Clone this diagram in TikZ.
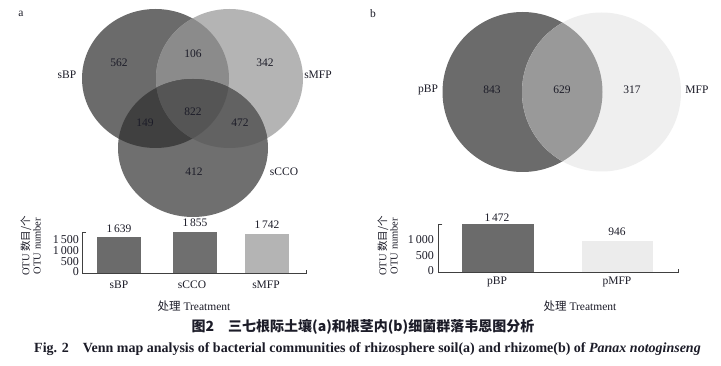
\documentclass[tikz,border=0pt]{standalone}
\usepackage{fontspec}
\setmainfont{Liberation Serif}
\newfontfamily\cjk{Noto Sans CJK SC}
\definecolor{txt}{HTML}{1C1C28}
\definecolor{vA}{HTML}{6B6B6B}
\definecolor{vB}{HTML}{B4B4B4}
\definecolor{vC}{HTML}{6F6F6F}
\definecolor{vAB}{HTML}{8B8B8B}
\definecolor{vAC}{HTML}{404040}
\definecolor{vBC}{HTML}{626262}
\definecolor{vABC}{HTML}{555555}
\definecolor{pA}{HTML}{6B6B6B}
\definecolor{pB}{HTML}{EFEFEF}
\definecolor{pAB}{HTML}{999999}
\definecolor{barL}{HTML}{B4B4B4}
\definecolor{barP}{HTML}{ECECEC}
\begin{document}
\begin{tikzpicture}[x=1pt,y=-1pt,
  lab/.style={text=txt,font=\fontsize{11.5}{12}\selectfont,inner sep=0pt},
  tick/.style={text=txt,font=\fontsize{12}{11}\selectfont,inner sep=0pt,anchor=east},
  ytitle/.style={text=txt,font=\fontsize{10.5}{11}\selectfont,inner sep=0pt,rotate=90},
  axis/.style={draw=black!75,line width=0.6pt}]
\useasboundingbox (0,0) rectangle (721,366);
\fill[white] (0,0) rectangle (721,366);
% ---------- Venn a ----------
\def\sBPshape{(155.5,78.5) ellipse [x radius=73.5, y radius=69.5]}
\def\sMFPshape{(229.5,78.5) ellipse [x radius=73.5, y radius=69.5]}
\def\sCCOshape{(193,148) ellipse [x radius=75, y radius=69]}
\fill[vA] \sBPshape;
\fill[vB] \sMFPshape;
\fill[vC] \sCCOshape;
\begin{scope}\clip \sBPshape; \fill[vAB] \sMFPshape; \end{scope}
\begin{scope}\clip \sBPshape; \fill[vAC] \sCCOshape; \end{scope}
\begin{scope}\clip \sMFPshape; \fill[vBC] \sCCOshape; \end{scope}
\begin{scope}\clip \sBPshape; \clip \sMFPshape; \fill[vABC] \sCCOshape; \end{scope}
\node[lab] (la) at (21,14) {a};
\node[lab] (nsBP) at (67,75) {sBP};
\node[lab] (nsMFP) at (318,75) {sMFP};
\node[lab] (nsCCO) at (284,172) {sCCO};
\node[lab] (n562) at (119,63) {562};
\node[lab] (n106) at (193,54) {106};
\node[lab] (n342) at (265,63) {342};
\node[lab] (n822) at (193,112) {822};
\node[lab] (n149) at (145,123) {149};
\node[lab] (n472) at (240,123) {472};
\node[lab] (n412) at (194,172) {412};
% ---------- Venn b ----------
\def\pBPshape{(522.5,92) circle [radius=80]}
\def\pMFPshape{(601.5,92) circle [radius=79.5]}
\fill[pA] \pBPshape;
\fill[pB] \pMFPshape;
\begin{scope}\clip \pBPshape; \fill[pAB] \pMFPshape; \end{scope}
\node[lab] (lb) at (373,14) {b};
\node[lab] (npBP) at (428,90) {pBP};
\node[lab] (nMFP) at (697,90) {MFP};
\node[lab] (n843) at (492,90) {843};
\node[lab] (n629) at (562,90) {629};
\node[lab] (n317) at (632,90) {317};
% ---------- Bars a ----------
\fill[vA] (96.7,273.5) rectangle (141,236.8);
\fill[vC] (172.7,273.5) rectangle (217.3,231.9);
\fill[barL] (245,273.5) rectangle (289.3,234.5);
\draw[axis] (86,232) -- (82,232) -- (82,273.5) -- (306,273.5) -- (306,270);
\node[tick] (ta0) at (79,272) {0};
\node[tick] (ta1) at (79,261.5) {500};
\node[tick] (ta2) at (79,250.5) {1\,000};
\node[tick] (ta3) at (79,239.5) {1\,500};
\node[lab] (va1) at (119,229) {1\,639};
\node[lab] (va2) at (195,223) {1\,855};
\node[lab] (va3) at (267,225) {1\,742};
\node[lab] (ca1) at (119,285) {sBP};
\node[lab] (ca2) at (192,285) {sCCO};
\node[lab] (ca3) at (266,285) {sMFP};
\node[lab] (xa) at (194,306) {{\cjk 处理} Treatment};
\node[ytitle] (ya1) at (26,246) {OTU {\cjk 数目/个}};
\node[ytitle] (ya2) at (37,246) {OTU number};
% ---------- Bars b ----------
\fill[pA] (462,272.3) rectangle (534,224.3);
\fill[barP] (581.7,272.3) rectangle (653.3,241.5);
\draw[axis] (442.3,224.5) -- (438.3,224.5) -- (438.3,272.3) -- (678,272.3) -- (678,268.8);
\node[tick] (tb0) at (434,271) {0};
\node[tick] (tb1) at (434,256) {500};
\node[tick] (tb2) at (434,240) {1\,000};
\node[lab] (vb1) at (497,218) {1\,472};
\node[lab] (vb2) at (617,232) {946};
\node[lab] (cb1) at (497,282) {pBP};
\node[lab] (cb2) at (617,282) {pMFP};
\node[lab] (xb) at (580,306) {{\cjk 处理} Treatment};
\node[ytitle] (yb1) at (383,246) {OTU {\cjk 数目/个}};
\node[ytitle] (yb2) at (394,246) {OTU number};
% ---------- Captions ----------
\node[text=txt,inner sep=0pt] (capcn) at (363,327) {\fontsize{14}{15}\selectfont\cjk\bfseries 图2\quad 三七根际土壤(a)和根茎内(b)细菌群落韦恩图分析};
\node[text=txt,inner sep=0pt] (capen) at (367.5,349) {\fontsize{14}{15}\selectfont\bfseries Fig. 2\quad Venn map analysis of bacterial communities of rhizosphere soil(a) and rhizome(b) of \textit{Panax notoginseng}};
\end{tikzpicture}
\end{document}
